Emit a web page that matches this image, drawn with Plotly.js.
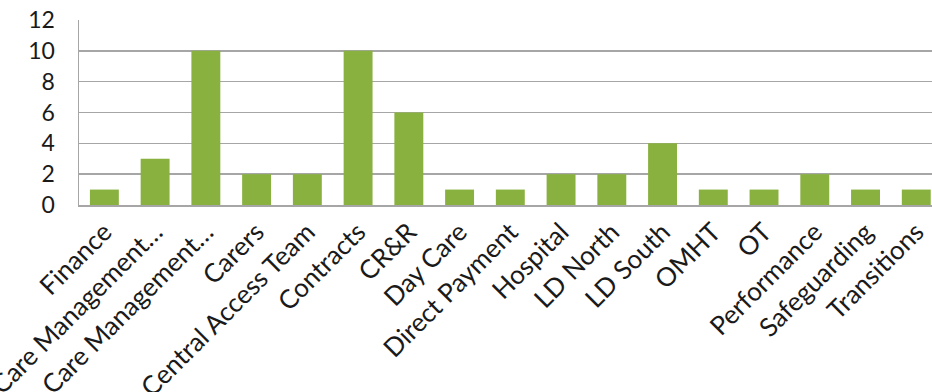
<!DOCTYPE html>
<html><head><meta charset="utf-8">
<script src="https://cdn.plot.ly/plotly-3.0.1.min.js"></script>
<style>body{margin:0;background:#fff}#c{width:932px;height:392px}</style>
</head><body><div id="c"></div>
<script>
const categories = ["Finance","Care Management\u2026","Care Management\u2026","Carers","Central Access Team","Contracts","CR&R","Day Care","Direct Payment","Hospital","LD North","LD South","OMHT","OT","Performance","Safeguarding","Transitions"];
const values = [1,3,10,2,2,10,6,1,1,2,2,4,1,1,2,1,1];
const yTicks = [0,2,4,6,8,10,12];
const positions = categories.map((_, i) => i);

const trace = {
  type: 'bar', x: positions, y: values,
  marker: {color: '#89b13f', line: {width: 0}},
  hoverinfo: 'skip'
};
const layout = {
  width: 932, height: 392,
  margin: {l: 79, r: 0, t: 20, b: 187},
  paper_bgcolor: '#fff', plot_bgcolor: '#fff',
  bargap: 0.43, showlegend: false,
  font: {family: 'Lato, sans-serif', color: '#1a1a1a'},
  xaxis: {
    range: [-0.5, 16.31], tickvals: positions, ticktext: categories,
    tickangle: -45, tickfont: {size: 26}, showgrid: false, zeroline: false,
    ticklabeloverflow: 'allow',
    showline: true, linecolor: '#a6a6a6', linewidth: 1.5, ticks: '', fixedrange: true
  },
  yaxis: {
    range: [0, 12], tickvals: yTicks, tickfont: {size: 23},
    showgrid: true, gridcolor: '#a6a6a6', gridwidth: 1.5, zeroline: false,
    showline: true, linecolor: '#a6a6a6', linewidth: 1.5, ticks: '', ticklabelstandoff: 18
  }
};
Plotly.newPlot('c', [trace], layout, {displayModeBar: false, staticPlot: true});
</script></body></html>
